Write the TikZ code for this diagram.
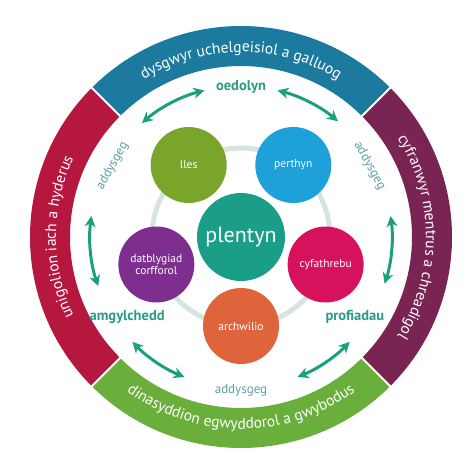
\documentclass[tikz,border=0pt]{standalone}
\usepackage{fontspec}
\setmainfont{PT Sans}
\usetikzlibrary{arrows.meta,decorations.text}
\definecolor{ringblue}{HTML}{1B7A9E}
\definecolor{ringred}{HTML}{B5173F}
\definecolor{ringpurple}{HTML}{7A2453}
\definecolor{ringgreen}{HTML}{6AAE3B}
\definecolor{cgreen}{HTML}{7AA52B}
\definecolor{cblue}{HTML}{1EA0D8}
\definecolor{cteal}{HTML}{1B9E88}
\definecolor{cmagenta}{HTML}{D6125C}
\definecolor{corange}{HTML}{E0643B}
\definecolor{cpurple}{HTML}{7D2E8F}
\definecolor{arrteal}{HTML}{1AA07F}
\definecolor{labteal}{HTML}{2A9A88}
\definecolor{addteal}{HTML}{5E9FA6}
\definecolor{innergray}{HTML}{D6E4E0}
\begin{document}
\begin{tikzpicture}[x=1pt,y=1pt,
  circ/.style={circle, minimum size=76, inner sep=0pt, text=white, align=center,
    font=\fontsize{11.5}{12.5}\selectfont},
  lab/.style={text=labteal, font=\fontsize{14.5}{15}\selectfont\bfseries, inner sep=1pt},
  addlab/.style={text=addteal, font=\fontsize{13}{14}\selectfont, inner sep=1pt},
  arr/.style={arrteal, line width=3pt,
    {Stealth[length=11pt,width=11pt]}-{Stealth[length=11pt,width=11pt]}},
  band/.style={line width=40pt},
  ringtext/.style={decorate, decoration={text along path, text align=center, text color=white}}
]
\useasboundingbox (0,0) rectangle (474,474);
\coordinate (C) at (241,237);

% outer ring
\foreach \a/\b/\c in {45/135/ringblue, 135/225/ringred, 225/315/ringgreen, -45/45/ringpurple}
  \draw[band, \c] ([shift={(\a:191)}]C) arc[start angle=\a, end angle=\b, radius=191];
\foreach \a in {45,135,225,315}
  \draw[white, line width=2pt] ([shift={(\a:168)}]C) -- ([shift={(\a:214)}]C);

% ring texts
\path[ringtext, decoration={text={|\fontsize{15.5}{15}\selectfont|dysgwyr uchelgeisiol a galluog}}]
  ([shift={(150:185)}]C) arc[start angle=150, end angle=30, radius=185];
\path[ringtext, decoration={text={|\fontsize{15.5}{15}\selectfont|unigolion iach a hyderus}}]
  ([shift={(235:185)}]C) arc[start angle=235, end angle=125, radius=185];
\path[ringtext, decoration={text={|\fontsize{15.5}{15}\selectfont|cyfranwyr mentrus a chreadigol}}]
  ([shift={(55:185)}]C) arc[start angle=55, end angle=-55, radius=185];
\path[ringtext, decoration={text={|\fontsize{15.5}{15}\selectfont|dinasyddion egwyddorol a gwybodus}}]
  ([shift={(215:192)}]C) arc[start angle=215, end angle=325, radius=192];

% inner gray ring
\draw[innergray, line width=5pt] (C) circle[radius=89];

% circles
\node[circ, fill=cgreen] (lles) at ([shift={(126:89)}]C) {lles};
\node[circ, fill=cblue] (perthyn) at ([shift={(54:89)}]C) {perthyn};
\node[circ, fill=cmagenta] (cyf) at ([shift={(-18:89)}]C) {cyfathrebu};
\node[circ, fill=corange] (arch) at ([shift={(-90:89)}]C) {archwilio};
\node[circ, fill=cpurple] (datb) at ([shift={(198:89)}]C) {datblygiad\\corfforol};
\node[circ, fill=cteal, minimum size=88, font=\fontsize{22}{23}\selectfont] (plentyn) at (C) {plentyn};

% labels
\node[lab] (oed) at ([shift={(90:150)}]C) {oedolyn};
\node[lab] (amg) at ([shift={(215:139)}]C) {amgylchedd};
\node[lab] (prof) at ([shift={(-35:139)}]C) {profiadau};
\node[addlab] (addb) at ([shift={(270:153)}]C) {addysgeg};
\node[addlab, rotate=61] (addl) at ([shift={(151:147)}]C) {addysgeg};
\node[addlab, rotate=-61] (addr) at ([shift={(29:147)}]C) {addysgeg};

% arrows
\foreach \n/\s/\e in {tl/131/104, tr/76/50, l/172/199, r/8/-18, bl/224/248, br/292/316}{
  \coordinate (\n a) at ([shift={(\s:151)}]C);
  \draw[arr] (\n a) arc[start angle=\s, end angle=\e, radius=151];
}
\end{tikzpicture}
\end{document}
